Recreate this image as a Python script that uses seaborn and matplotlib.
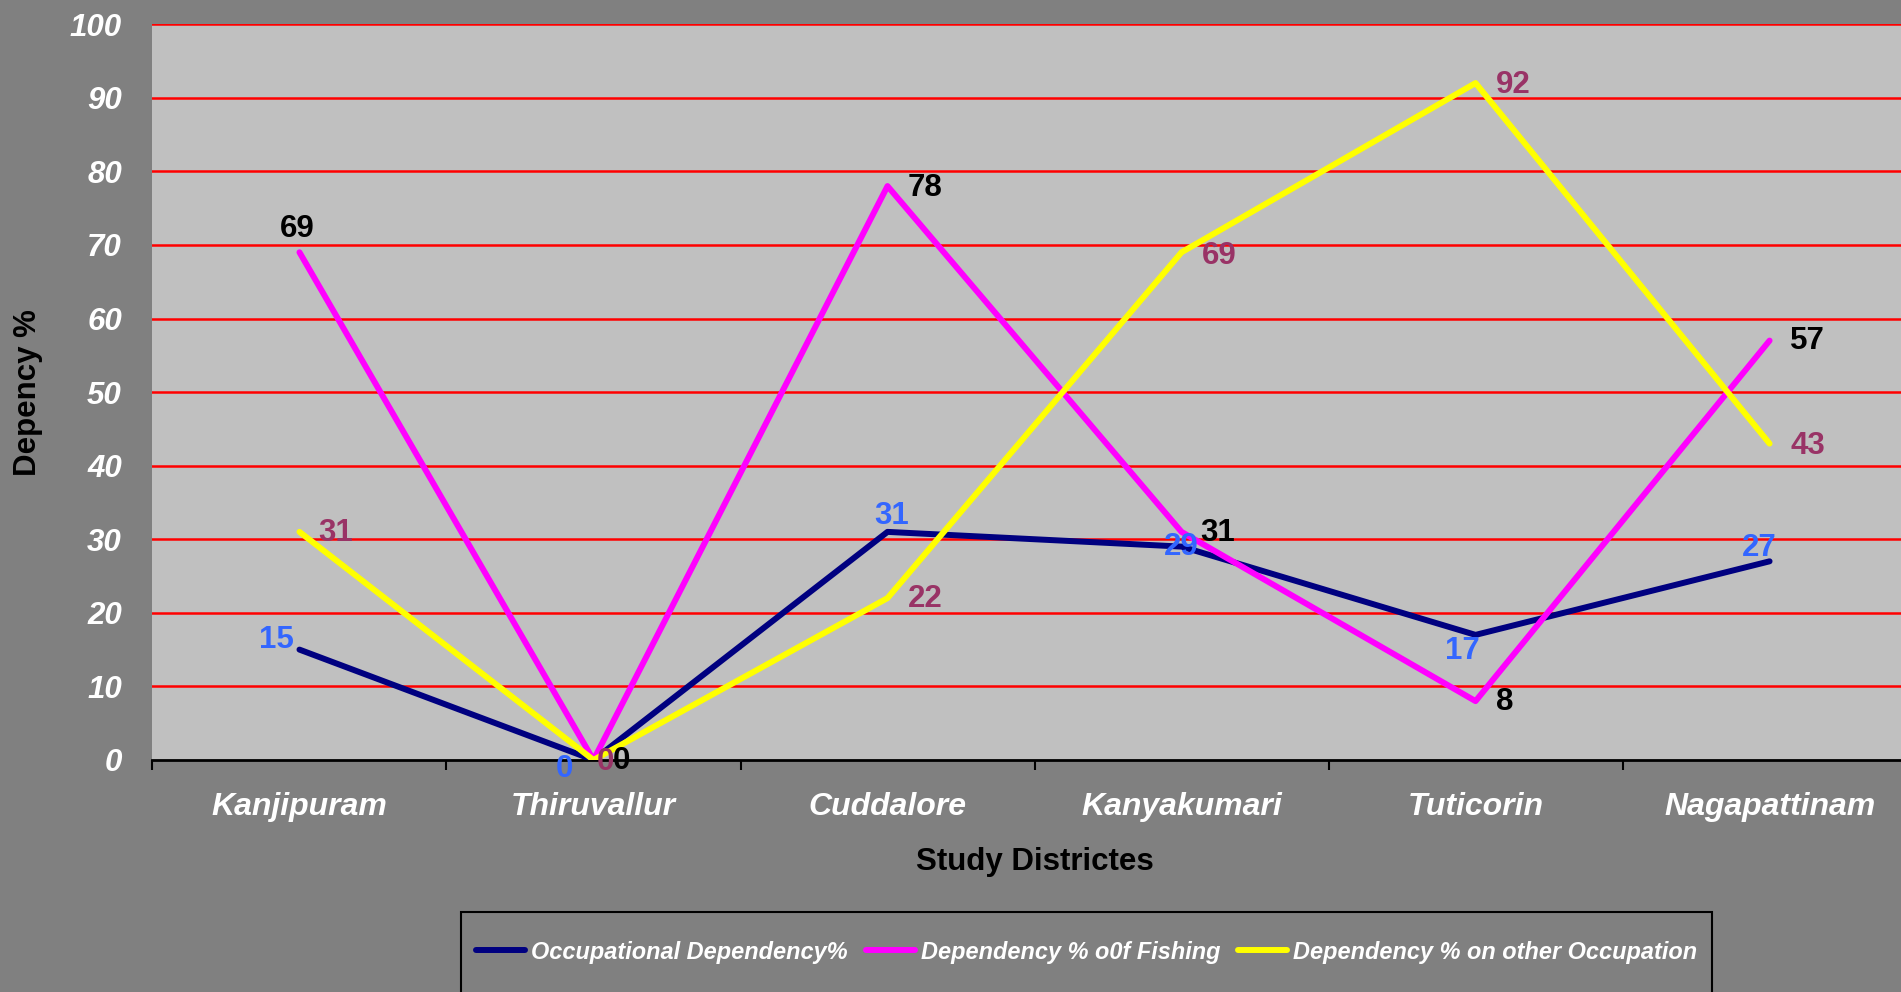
import numpy as np
import pandas as pd
import matplotlib
matplotlib.use("Agg")
import matplotlib.pyplot as plt
import seaborn as sns
from matplotlib.patches import Rectangle
from matplotlib.ticker import FixedLocator

# ---------------- data ----------------
districts = ["Kanjipuram", "Thiruvallur", "Cuddalore", "Kanyakumari", "Tuticorin", "Nagapattinam"]
occupational = [15, 0, 31, 29, 17, 27]
fishing = [69, 0, 78, 31, 8, 57]
other_occ = [31, 0, 22, 69, 92, 43]
series_names = ["Occupational Dependency%", "Dependency % o0f Fishing",
                "Dependency % on other Occupation"]
y_ticks = [0, 10, 20, 30, 40, 50, 60, 70, 80, 90, 100]
x_title = "Study Districtes"
y_title = "Depency %"

# ---------------- style ----------------
line_colors = ["#000080", "#FF00FF", "#FFFF00"]
label_colors = ["#3366FF", "#000000", "#993366"]
# label offsets in pixels (dx, dy) for each series / point
label_offsets = [
    [(-23, 10), (-29, -9), (4, 16), (0, 0), (-13, -16), (-10, 13)],
    [(-2, 23), (28, -1), (38, -2), (36, -1), (29, -1), (38, 0)],
    [(36, -1), (12, -2), (38, -1), (38, -4), (38, -2), (38, -2)],
]

plt.rcParams["font.family"] = ["Liberation Sans", "DejaVu Sans"]
FS = 22.5

df = pd.DataFrame({
    "District": districts * 3,
    "Value": occupational + fishing + other_occ,
    "Series": [series_names[0]] * 6 + [series_names[1]] * 6 + [series_names[2]] * 6,
})

fig = plt.figure(figsize=(19.01, 9.92), dpi=100)
fig.patch.set_facecolor("#808080")
ax = fig.add_axes([0.0802, 0.2339, 0.928, 0.7417])
ax.set_facecolor("#C0C0C0")

sns.lineplot(data=df, x="District", y="Value", hue="Series", hue_order=series_names,
             palette=line_colors, sort=False, linewidth=4.3, ax=ax, legend=True,
             solid_capstyle="round", solid_joinstyle="round")
for ln in ax.get_lines():
    ln.set_zorder(3)

# data labels
for vals, col, offs in zip([occupational, fishing, other_occ], label_colors, label_offsets):
    for i, (v, (dx, dy)) in enumerate(zip(vals, offs)):
        ax.annotate(str(v), (i, v), xytext=(dx, dy), textcoords="offset pixels",
                    ha="center", va="center", fontsize=FS, fontweight="bold",
                    color=col, zorder=5)

ax.set_xlim(-0.5, len(districts) - 0.5)
ax.set_ylim(0, 100)
ax.set_yticks(y_ticks)
ax.set_yticklabels([str(t) for t in y_ticks])
ax.set_xticks(range(len(districts)))
ax.set_xticklabels(districts)
ax.xaxis.set_minor_locator(FixedLocator(np.arange(-0.5, len(districts), 1.0)))

# grid
ax.grid(False)
for t in y_ticks[1:]:
    ax.axhline(t, color="#FF0000", linewidth=1.8, zorder=1)

for s in ["top", "right", "left"]:
    ax.spines[s].set_visible(False)
ax.spines["bottom"].set_color("black")
ax.spines["bottom"].set_linewidth(2)
ax.spines["bottom"].set_zorder(2)

ax.tick_params(axis="y", length=0, pad=22, labelsize=FS, labelcolor="white")
ax.tick_params(axis="x", which="major", length=0, pad=23, labelsize=23, labelcolor="white")
ax.tick_params(axis="x", which="minor", length=7, width=1.5, color="black", direction="out")
for lab in ax.get_xticklabels() + ax.get_yticklabels():
    lab.set_fontweight("bold")
    lab.set_fontstyle("italic")

ax.set_xlabel(x_title, fontsize=FS, fontweight="bold", color="black")
ax.set_ylabel(y_title, fontsize=FS, fontweight="bold", color="black")
ax.xaxis.label.set_va("center")
ax.yaxis.label.set_va("center")
ax.xaxis.set_label_coords(0.5, -0.138)
ax.yaxis.set_label_coords(-0.0706, 0.5)

# legend
handles, labels = ax.get_legend_handles_labels()
leg = ax.legend(handles, labels, loc="center", bbox_to_anchor=(0.5716, 0.0403),
                bbox_transform=fig.transFigure, ncol=3, frameon=False,
                handlelength=2.1, handletextpad=0.25, columnspacing=0.75,
                prop={"size": 16.9, "weight": "bold", "style": "italic"})
for txt in leg.get_texts():
    txt.set_color("white")
for h in leg.legend_handles:
    h.set_linewidth(4.3)

fig.add_artist(Rectangle((461 / 1901, -0.02), (1712 - 461) / 1901, 0.1006,
                         transform=fig.transFigure, facecolor="none",
                         edgecolor="black", linewidth=1.5))

fig.savefig("out.png", dpi=100, facecolor=fig.get_facecolor())
